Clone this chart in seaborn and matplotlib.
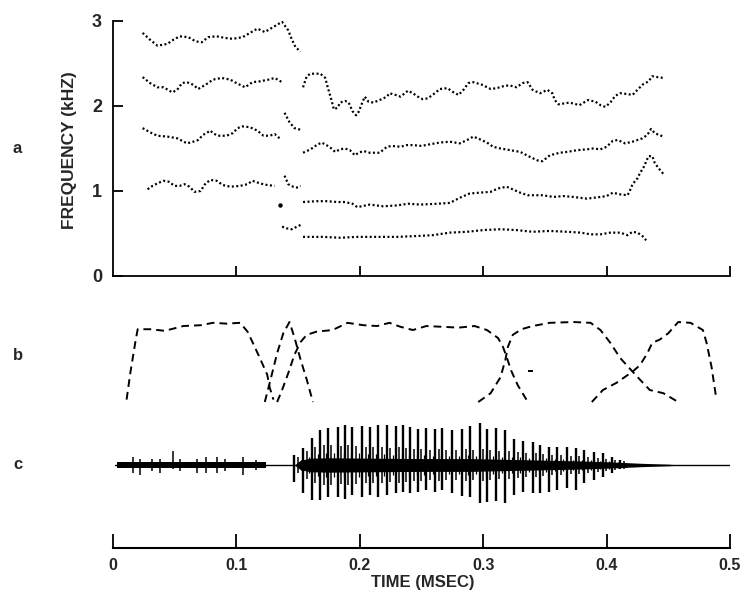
import matplotlib
matplotlib.use("Agg")
import matplotlib.pyplot as plt
import seaborn as sns

# =========================================================
# PANEL a : FORMANT TRACKS  (time in s, frequency in kHz)
# =========================================================

# first (noise) part, four tracks
f4a_t = [0.024, 0.030, 0.036, 0.044, 0.049, 0.054, 0.061, 0.067, 0.072, 0.077,
         0.084, 0.091, 0.097, 0.105, 0.111, 0.117, 0.123, 0.130, 0.137, 0.139,
         0.142, 0.145, 0.148, 0.152]
f4a_f = [2.86, 2.78, 2.71, 2.73, 2.78, 2.82, 2.81, 2.76, 2.75, 2.81,
         2.82, 2.80, 2.79, 2.81, 2.86, 2.91, 2.87, 2.93, 2.99, 2.95,
         2.89, 2.78, 2.69, 2.64]

f3a_t = [0.024, 0.030, 0.036, 0.041, 0.048, 0.052, 0.056, 0.060, 0.065, 0.069,
         0.075, 0.081, 0.088, 0.095, 0.100, 0.107, 0.113, 0.119, 0.126, 0.131,
         0.137]
f3a_f = [2.34, 2.27, 2.22, 2.22, 2.16, 2.19, 2.27, 2.28, 2.25, 2.20,
         2.25, 2.31, 2.33, 2.31, 2.27, 2.22, 2.28, 2.29, 2.31, 2.33,
         2.28]

f2a_t = [0.024, 0.030, 0.036, 0.044, 0.052, 0.056, 0.060, 0.065, 0.069, 0.073,
         0.079, 0.081, 0.085, 0.092, 0.097, 0.101, 0.105, 0.111, 0.117, 0.122,
         0.127, 0.131, 0.135]
f2a_f = [1.74, 1.69, 1.65, 1.64, 1.62, 1.59, 1.56, 1.58, 1.60, 1.66,
         1.71, 1.68, 1.65, 1.65, 1.68, 1.74, 1.76, 1.75, 1.71, 1.65,
         1.65, 1.67, 1.62]

f1a_t = [0.028, 0.032, 0.036, 0.041, 0.045, 0.050, 0.054, 0.058, 0.062, 0.066,
         0.071, 0.075, 0.079, 0.084, 0.089, 0.095, 0.103, 0.109, 0.113, 0.119,
         0.125, 0.131]
f1a_f = [1.02, 1.06, 1.09, 1.12, 1.11, 1.06, 1.06, 1.08, 1.05, 0.99,
         1.00, 1.09, 1.13, 1.12, 1.07, 1.05, 1.06, 1.08, 1.12, 1.09,
         1.07, 1.06]

# short pieces at the transition
f2x_t = [0.139, 0.143, 0.147, 0.152]
f2x_f = [1.92, 1.81, 1.74, 1.72]
f1x_t = [0.139, 0.142, 0.146, 0.149, 0.152]
f1x_f = [1.18, 1.08, 1.05, 1.04, 1.06]
f0x_t = [0.137, 0.141, 0.145, 0.149, 0.152]
f0x_f = [0.58, 0.56, 0.55, 0.58, 0.60]
stray_t = [0.135]
stray_f = [0.84]

# second (voiced) part, four tracks
f3b_t = [0.154, 0.157, 0.160, 0.168, 0.172, 0.174, 0.177, 0.179, 0.182, 0.184,
         0.188, 0.191, 0.194, 0.197, 0.199, 0.202, 0.204, 0.207, 0.211, 0.216,
         0.222, 0.224, 0.229, 0.233, 0.239, 0.243, 0.247, 0.251, 0.255, 0.259,
         0.265, 0.271, 0.276, 0.280, 0.284, 0.288, 0.292, 0.299, 0.306, 0.311,
         0.318, 0.322, 0.327, 0.332, 0.336, 0.340, 0.346, 0.352, 0.356, 0.358,
         0.361, 0.370, 0.378, 0.385, 0.391, 0.395, 0.399, 0.403, 0.407, 0.411,
         0.417, 0.421, 0.425, 0.429, 0.434, 0.437, 0.441, 0.446]
f3b_f = [2.22, 2.35, 2.38, 2.38, 2.33, 2.22, 2.07, 1.96, 1.98, 2.04,
         2.06, 2.04, 1.94, 1.89, 1.93, 2.04, 2.11, 2.05, 2.04, 2.07,
         2.11, 2.15, 2.13, 2.11, 2.18, 2.15, 2.11, 2.08, 2.09, 2.13,
         2.20, 2.21, 2.16, 2.13, 2.19, 2.27, 2.28, 2.25, 2.20, 2.21,
         2.24, 2.24, 2.22, 2.27, 2.28, 2.19, 2.15, 2.19, 2.15, 2.07,
         2.02, 2.04, 2.01, 2.07, 2.05, 2.01, 1.99, 2.04, 2.12, 2.15,
         2.14, 2.13, 2.19, 2.25, 2.29, 2.35, 2.34, 2.33]

f2b_t = [0.154, 0.160, 0.165, 0.169, 0.173, 0.177, 0.180, 0.184, 0.188, 0.192,
         0.196, 0.199, 0.203, 0.208, 0.216, 0.222, 0.226, 0.233, 0.238, 0.243,
         0.250, 0.257, 0.265, 0.273, 0.281, 0.287, 0.292, 0.297, 0.303, 0.308,
         0.314, 0.322, 0.330, 0.338, 0.344, 0.348, 0.354, 0.362, 0.368, 0.376,
         0.384, 0.389, 0.395, 0.400, 0.405, 0.409, 0.415, 0.421, 0.429, 0.433,
         0.436, 0.439, 0.446]
f2b_f = [1.45, 1.49, 1.54, 1.57, 1.54, 1.50, 1.46, 1.49, 1.50, 1.48,
         1.42, 1.45, 1.47, 1.45, 1.45, 1.52, 1.53, 1.52, 1.54, 1.54,
         1.53, 1.55, 1.57, 1.58, 1.56, 1.60, 1.64, 1.61, 1.57, 1.52,
         1.50, 1.48, 1.46, 1.40, 1.36, 1.35, 1.42, 1.45, 1.46, 1.48,
         1.49, 1.50, 1.49, 1.52, 1.59, 1.60, 1.56, 1.58, 1.62, 1.66,
         1.73, 1.68, 1.64]

f1b_t = [0.154, 0.165, 0.173, 0.182, 0.188, 0.194, 0.198, 0.208, 0.219, 0.230,
         0.239, 0.249, 0.263, 0.273, 0.281, 0.289, 0.297, 0.306, 0.312, 0.319,
         0.330, 0.336, 0.348, 0.357, 0.365, 0.373, 0.384, 0.395, 0.400, 0.405,
         0.411, 0.417, 0.419, 0.421, 0.425, 0.427, 0.430, 0.434, 0.437, 0.439,
         0.442, 0.446]
f1b_f = [0.87, 0.88, 0.88, 0.87, 0.87, 0.85, 0.81, 0.84, 0.82, 0.83,
         0.85, 0.84, 0.85, 0.86, 0.92, 0.97, 0.98, 0.99, 1.03, 1.05,
         0.98, 0.95, 0.95, 0.93, 0.94, 0.93, 0.91, 0.93, 0.94, 0.98,
         0.96, 0.95, 1.01, 1.08, 1.15, 1.21, 1.28, 1.41, 1.41, 1.33,
         1.27, 1.20]

f0b_t = [0.154, 0.170, 0.184, 0.198, 0.214, 0.230, 0.246, 0.259, 0.273, 0.287,
         0.300, 0.314, 0.327, 0.340, 0.354, 0.368, 0.379, 0.387, 0.395, 0.403,
         0.411, 0.417, 0.421, 0.425, 0.429, 0.432]
f0b_f = [0.46, 0.46, 0.45, 0.46, 0.46, 0.46, 0.47, 0.48, 0.51, 0.52,
         0.54, 0.55, 0.54, 0.52, 0.53, 0.52, 0.51, 0.49, 0.49, 0.51,
         0.51, 0.48, 0.52, 0.51, 0.47, 0.42]

# =========================================================
# PANEL b : DASHED CONTOURS (relative level 0..1)
# =========================================================

c1_t = [0.011, 0.014, 0.018, 0.020, 0.030, 0.042, 0.057, 0.071, 0.081, 0.092,
        0.103, 0.109, 0.113, 0.119, 0.125, 0.127, 0.130]
c1_v = [0.03, 0.36, 0.74, 0.91, 0.91, 0.89, 0.95, 0.96, 0.99, 0.98,
        0.99, 0.88, 0.75, 0.55, 0.34, 0.18, 0.03]

c2_t = [0.123, 0.127, 0.133, 0.138, 0.143, 0.147, 0.152, 0.157, 0.162]
c2_v = [0.00, 0.24, 0.61, 0.86, 1.00, 0.81, 0.53, 0.28, 0.00]

c3_t = [0.133, 0.137, 0.142, 0.147, 0.152, 0.157, 0.165, 0.178, 0.190, 0.203,
        0.214, 0.224, 0.233, 0.243, 0.254, 0.267, 0.280, 0.293, 0.303, 0.312,
        0.316, 0.319, 0.323, 0.328, 0.335]
c3_v = [0.00, 0.15, 0.36, 0.59, 0.75, 0.84, 0.88, 0.90, 0.99, 0.96,
        0.95, 0.99, 0.94, 0.90, 0.95, 0.94, 0.93, 0.95, 0.90, 0.80,
        0.69, 0.56, 0.38, 0.21, 0.03]

c4_t = [0.296, 0.306, 0.314, 0.318, 0.320, 0.324, 0.331, 0.340, 0.354, 0.373,
        0.387, 0.395, 0.403, 0.411, 0.421, 0.427, 0.435, 0.446, 0.458]
c4_v = [0.00, 0.11, 0.31, 0.53, 0.69, 0.84, 0.91, 0.95, 0.99, 1.00,
        0.99, 0.90, 0.74, 0.55, 0.38, 0.28, 0.15, 0.11, 0.00]

c5_t = [0.388, 0.397, 0.408, 0.421, 0.427, 0.433, 0.437, 0.443, 0.450, 0.458,
        0.468, 0.478, 0.481, 0.485, 0.489]
c5_v = [0.00, 0.15, 0.24, 0.38, 0.46, 0.61, 0.74, 0.78, 0.86, 1.00,
        0.99, 0.90, 0.74, 0.44, 0.03]

dash_t = [0.336, 0.340]
dash_v = [0.39, 0.39]

# =========================================================
# PANEL c : WAVEFORM (relative amplitude)
# =========================================================

pulse_t = [0.147, 0.154, 0.161, 0.168, 0.174, 0.182, 0.188, 0.194, 0.202, 0.208,
           0.215, 0.222, 0.229, 0.235, 0.241, 0.247, 0.254, 0.261, 0.267, 0.275,
           0.283, 0.289, 0.297, 0.303, 0.310, 0.318, 0.325, 0.332, 0.340, 0.346,
           0.353, 0.360, 0.368, 0.375, 0.382, 0.390, 0.397, 0.404, 0.411]
pulse_top = [0.25, 0.43, 0.68, 0.88, 0.93, 0.95, 1.00, 0.95, 0.98, 0.95,
             1.00, 1.00, 0.98, 1.00, 0.95, 0.90, 0.93, 0.90, 0.93, 0.88,
             0.90, 0.98, 1.05, 0.90, 0.93, 0.88, 0.65, 0.60, 0.58, 0.50,
             0.45, 0.45, 0.45, 0.43, 0.38, 0.33, 0.30, 0.20, 0.13]
pulse_bot = [-0.43, -0.70, -0.88, -0.88, -0.80, -0.80, -0.85, -0.75, -0.80, -0.75,
             -0.80, -0.75, -0.70, -0.68, -0.70, -0.68, -0.63, -0.68, -0.63, -0.70,
             -0.78, -0.80, -0.95, -0.93, -0.90, -0.95, -0.75, -0.68, -0.70, -0.70,
             -0.68, -0.63, -0.58, -0.63, -0.45, -0.38, -0.30, -0.20, -0.10]
# secondary ringing peak that follows each pulse
ring_a = [0.20, 0.35, 0.45, 0.50, 0.50, 0.48, 0.50, 0.48, 0.45, 0.45,
          0.45, 0.42, 0.45, 0.42, 0.40, 0.40, 0.38, 0.40, 0.38, 0.38,
          0.40, 0.38, 0.40, 0.38, 0.35, 0.35, 0.32, 0.30, 0.30, 0.28,
          0.25, 0.25, 0.22, 0.22, 0.20, 0.18, 0.15, 0.12, 0.10]

# dark mass between the pulses
body_t = [0.147, 0.152, 0.160, 0.175, 0.210, 0.250, 0.290, 0.320, 0.350,
          0.380, 0.400, 0.415, 0.430, 0.450, 0.460]
body_a = [0.00, 0.12, 0.17, 0.18, 0.17, 0.16, 0.16, 0.14, 0.12,
          0.10, 0.08, 0.06, 0.04, 0.02, 0.00]

# noise burst at the start
noise_t = [0.003, 0.124]
noise_a = [0.08, 0.08]
spike_t = [0.016, 0.022, 0.032, 0.038, 0.049, 0.054, 0.068, 0.075, 0.084,
           0.091, 0.105, 0.116]
spike_top = [0.20, 0.15, 0.15, 0.15, 0.35, 0.15, 0.15, 0.20, 0.20, 0.15, 0.20, 0.12]
spike_bot = [-0.20, -0.25, -0.15, -0.20, -0.10, -0.15, -0.20, -0.20, -0.20,
             -0.15, -0.25, -0.12]

x_ticks = [0, 0.1, 0.2, 0.3, 0.4, 0.5]
x_labels = ["0", "0.1", "0.2", "0.3", "0.4", "0.5"]
y_ticks = [0, 1, 2, 3]

# =========================================================
# FIGURE
# =========================================================

sns.set_style("white")
plt.rcParams["font.family"] = ["Liberation Sans", "DejaVu Sans"]
plt.rcParams["font.weight"] = "bold"

fig = plt.figure(figsize=(7.41, 5.93), dpi=100)

ax_a = fig.add_axes([0.1525, 0.5346, 0.8327, 0.4300])
ax_b = fig.add_axes([0.1525, 0.3170, 0.8327, 0.1467])
ax_c = fig.add_axes([0.1525, 0.0759, 0.8327, 0.2243])

dot_style = dict(color="black", lw=1.6, linestyle=(0, (0.9, 1.1)),
                 estimator=None, sort=False, ax=ax_a)

tracks = [
    (f4a_t, f4a_f), (f3a_t, f3a_f), (f2a_t, f2a_f), (f1a_t, f1a_f),
    (f2x_t, f2x_f), (f1x_t, f1x_f), (f0x_t, f0x_f),
    (f3b_t, f3b_f), (f2b_t, f2b_f), (f1b_t, f1b_f), (f0b_t, f0b_f),
]
for t, f in tracks:
    sns.lineplot(x=t, y=f, **dot_style)

ax_a.plot(stray_t, stray_f, "o", color="black", markersize=2.2)

ax_a.set_xlim(0, 0.5)
ax_a.set_ylim(0, 3)
ax_a.set_xticks(x_ticks[1:])
ax_a.set_xticklabels([])
ax_a.set_yticks(y_ticks)
ax_a.set_yticklabels([str(v) for v in y_ticks], fontsize=13, fontweight="bold")
ax_a.tick_params(axis="both", direction="in", length=7, width=1.3,
                 color="black", pad=8, bottom=True, left=True)
for side in ["top", "right"]:
    ax_a.spines[side].set_visible(False)
for side in ["left", "bottom"]:
    ax_a.spines[side].set_linewidth(1.3)
    ax_a.spines[side].set_color("black")

# panel b
dash_style = dict(color="black", lw=1.4, linestyle=(0, (4, 2.6)),
                  estimator=None, sort=False, ax=ax_b)
for t, v in [(c1_t, c1_v), (c2_t, c2_v), (c3_t, c3_v), (c4_t, c4_v),
             (c5_t, c5_v), (dash_t, dash_v)]:
    sns.lineplot(x=t, y=v, **dash_style)
ax_b.set_xlim(0, 0.5)
ax_b.set_ylim(-0.0375, 1.05)
ax_b.axis("off")

# panel c
ax_c.plot([0.002, 0.5], [0, 0], color="black", lw=1.0)
ax_c.fill_between(noise_t, [-a for a in noise_a], noise_a,
                  color="black", lw=0)
ax_c.vlines(spike_t, spike_bot, spike_top, color="black", lw=1.1)
ax_c.fill_between(body_t, [-a for a in body_a], body_a,
                  color="black", lw=0)
ax_c.vlines(pulse_t, pulse_bot, pulse_top, color="black", lw=1.7)
ax_c.vlines([t + 0.0028 for t in pulse_t], [-a for a in ring_a], ring_a,
            color="black", lw=1.1)
ax_c.vlines([t + 0.0050 for t in pulse_t], [-0.6 * a for a in ring_a],
            [0.6 * a for a in ring_a], color="black", lw=0.9)

ax_c.set_xlim(0, 0.5)
ax_c.set_ylim(-2.075, 1.25)
ax_c.set_xticks(x_ticks)
ax_c.set_xticklabels(x_labels, fontsize=11.5, fontweight="bold")
ax_c.set_yticks([])
ax_c.tick_params(axis="x", direction="in", length=10, width=1.3,
                 color="black", pad=7, bottom=True)
for side in ["top", "right", "left"]:
    ax_c.spines[side].set_visible(False)
ax_c.spines["bottom"].set_linewidth(1.5)
ax_c.spines["bottom"].set_color("black")

# labels
fig.text(0.094, 0.747, "FREQUENCY (kHZ)", rotation=90, ha="center",
         va="center", fontsize=12.5, fontweight="bold")
fig.text(0.571, 0.018, "TIME (MSEC)", ha="center", va="center",
         fontsize=12, fontweight="bold")
for lab, y in [("a", 0.750), ("b", 0.401), ("c", 0.216)]:
    fig.text(0.0175, y, lab, ha="left", va="center", fontsize=12,
             fontweight="bold")

plt.savefig("out.png", dpi=100)
